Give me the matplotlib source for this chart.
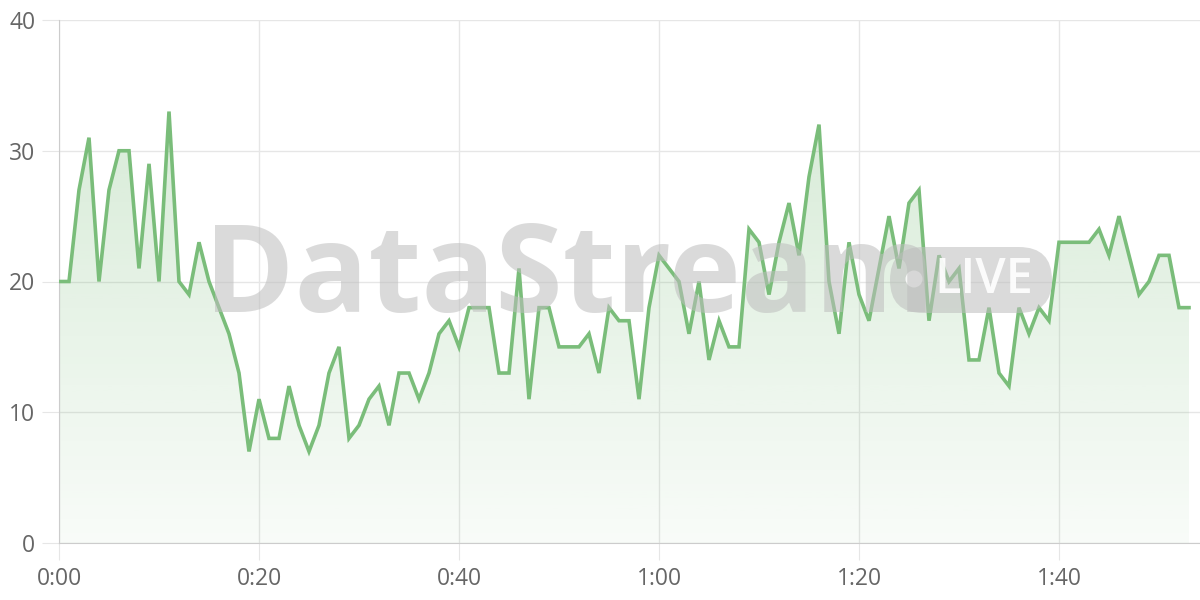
import matplotlib
matplotlib.use('Agg')
import matplotlib.pyplot as plt
import numpy as np
from matplotlib.colors import LinearSegmentedColormap
from matplotlib.patches import FancyBboxPatch, Circle
from matplotlib.transforms import IdentityTransform

# one reading per minute
counts = [20, 20, 27, 31, 20, 27, 30, 30, 21, 29,
          20, 33, 20, 19, 23, 20, 18, 16, 13, 7,
          11, 8, 8, 12, 9, 7, 9, 13, 15, 8,
          9, 11, 12, 9, 13, 13, 11, 13, 16, 17,
          15, 18, 18, 18, 13, 13, 21, 11, 18, 18,
          15, 15, 15, 16, 13, 18, 17, 17, 11, 18,
          22, 21, 20, 16, 20, 14, 17, 15, 15, 24,
          23, 19, 23, 26, 22, 28, 32, 20, 16, 23,
          19, 17, 21, 25, 21, 26, 27, 17, 22, 20,
          21, 14, 14, 18, 13, 12, 18, 16, 18, 17,
          23, 23, 23, 23, 24, 22, 25, 22, 19, 20,
          22, 22, 18, 18]
minutes = np.arange(len(counts))

x_ticks = [0, 20, 40, 60, 80, 100]
x_labels = ['0:00', '0:20', '0:40', '1:00', '1:20', '1:40']
y_ticks = [0, 10, 20, 30, 40]

green = '#7abd7a'
grid_col = '#e6e6e6'

fig = plt.figure(figsize=(12, 6), dpi=100)
ax = fig.add_axes([59/1200, 57/600, 1141/1200, 523/600])
ax.set_xlim(0, 114.1)
ax.set_ylim(0, 40)

# gradient fill under the line
cmap = LinearSegmentedColormap.from_list('g', [(120/255, 188/255, 120/255, 0.05),
                                               (120/255, 188/255, 120/255, 0.34)])
grad = np.linspace(0, 1, 256).reshape(-1, 1)
img = ax.imshow(grad, cmap=cmap, origin='lower', aspect='auto',
                extent=[0, 114.1, 0, 40], zorder=1)
poly = ax.fill_between(minutes, counts, 0, color='none', lw=0)
img.set_clip_path(poly.get_paths()[0], transform=ax.transData)

ax.plot(minutes, counts, color=green, lw=2.6, solid_joinstyle='miter', zorder=4)

# watermark
fig.text(204/1200, 1 - 280/600, 'DataStream', fontsize=88, fontweight='bold',
         family='Open Sans', color='#bdbdbd', alpha=0.55, ha='left', va='center', zorder=3)
pill = FancyBboxPatch((890, 287), 162, 66, boxstyle='round,pad=0,rounding_size=33',
                      transform=IdentityTransform(), facecolor='#bdbdbd', alpha=0.55,
                      edgecolor='none', zorder=3)
fig.patches.append(pill)
fig.patches.append(Circle((914, 321), 8.5, transform=IdentityTransform(),
                          facecolor='white', alpha=0.85, edgecolor='none', zorder=3))
fig.text(934/1200, 1 - 281/600, 'LIVE', fontsize=35, fontweight='semibold',
         family='Open Sans', color='white', alpha=0.9, ha='left', va='center', zorder=3)

ax.set_xticks(x_ticks)
ax.set_xticklabels(x_labels)
ax.set_yticks(y_ticks)
ax.grid(True, color=grid_col, lw=1, zorder=0)
ax.tick_params(length=12, color=grid_col, labelcolor='#666666', labelsize=16.5, pad=5)
for lab in ax.get_xticklabels() + ax.get_yticklabels():
    lab.set_family('Open Sans')
for s in ['top', 'right']:
    ax.spines[s].set_visible(False)
ax.spines['left'].set_color('#cccccc')
ax.spines['bottom'].set_color('#cccccc')
ax.set_axisbelow(True)

plt.savefig('out.png', dpi=100)
